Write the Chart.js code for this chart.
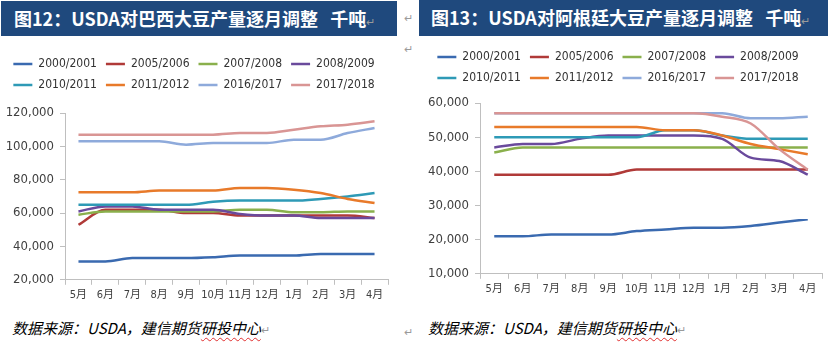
<!DOCTYPE html>
<html>
<head>
<meta charset="utf-8">
<script src="https://cdn.jsdelivr.net/npm/chart.js@4.4.1/dist/chart.umd.min.js"></script>
<style>
  body { margin: 0; width: 828px; height: 343px; background: #fff; position: relative; overflow: hidden; font-family: 'Noto Sans CJK SC', sans-serif; }
  .bar { position: absolute; height: 35px; background: #1F497D; color: #fff; font-weight: bold; font-size: 18px; line-height: 35px; white-space: pre; }
  .box { position: absolute; }
  .src { position: absolute; font-style: italic; font-size: 15px; color: #000; white-space: pre; line-height: 20px; }
  .mark { color: #9a9a9a; font-size: 11px; font-weight: normal; font-style: normal; }
  .free { position: absolute; }
  .wavy { text-decoration: underline wavy #e03030; text-decoration-thickness: 1px; text-underline-offset: 3px; }
</style>
</head>
<body>
<div class="bar" style="left:1px; top:1px; width:396px; padding-left:13px; box-sizing:border-box;">图12：USDA对巴西大豆产量逐月调整   千吨<span class="mark">↵</span></div>
<div class="bar" style="left:419px; top:0px; width:409px; height:36px; padding-left:12px; box-sizing:border-box;">图13：USDA对阿根廷大豆产量逐月调整   千吨<span class="mark">↵</span></div>
<span class="mark free" style="left:404px; top:9px;">↵</span>
<span class="mark free" style="left:404px; top:40px;">↵</span>

<div class="box" style="left:0px; top:40px; width:400px; height:266px;"><canvas id="brazil"></canvas></div>
<div class="box" style="left:414px; top:38px; width:414px; height:262px;"><canvas id="argentina"></canvas></div>

<div class="src" style="left:12px; top:318px;">数据来源：USDA，建信期货<span class="wavy">研投中心</span><span class="mark">↵</span></div>
<div class="src" style="left:428px; top:318px;">数据来源：USDA，建信期货<span class="wavy">研投中心</span><span class="mark">↵</span></div>
<span class="mark free" style="left:404px; top:323px;">↵</span>

<script>
const months = ['5月', '6月', '7月', '8月', '9月', '10月', '11月', '12月', '1月', '2月', '3月', '4月'];
const seasons = ['2000/2001', '2005/2006', '2007/2008', '2008/2009', '2010/2011', '2011/2012', '2016/2017', '2017/2018'];
const colors = ['#3A6AB0', '#B03A38', '#8AB04C', '#6A4A9C', '#2E9AB6', '#E87A2A', '#8EAADB', '#D99594'];

// Brazil soybean production estimates by report month (thousand tonnes)
const br2000 = [31000, 31000, 33000, 33000, 33000, 33500, 34500, 34500, 34500, 35500, 35500, 35500];
const br2005 = [53000, 62000, 62000, 62000, 60000, 60000, 58500, 58500, 58500, 58500, 58500, 57000];
const br2007 = [59000, 61000, 61000, 61000, 61000, 61000, 62000, 62000, 60500, 60500, 61000, 61000];
const br2008 = [61000, 64000, 64000, 62000, 62000, 62000, 59500, 58500, 58500, 57000, 57000, 57000];
const br2010 = [65000, 65000, 65000, 65000, 65000, 66800, 67500, 67500, 67500, 68500, 70000, 72000];
const br2011 = [72500, 72500, 72500, 73500, 73500, 73500, 75000, 75000, 74000, 72000, 68500, 66000];
const br2016 = [103000, 103000, 103000, 103000, 101000, 102000, 102000, 102000, 104000, 104000, 108000, 111000];
const br2017 = [107000, 107000, 107000, 107000, 107000, 107000, 108000, 108000, 110000, 112000, 113000, 115000];

// Argentina
const ar2000 = [21000, 21000, 21500, 21500, 21500, 22500, 23000, 23500, 23500, 24000, 25000, 26000];
const ar2005 = [39000, 39000, 39000, 39000, 39000, 40500, 40500, 40500, 40500, 40500, 40500, 40500];
const ar2007 = [45500, 47000, 47000, 47000, 47000, 47000, 47000, 47000, 47000, 47000, 47000, 47000];
const ar2008 = [47000, 48000, 48000, 49500, 50500, 50500, 50500, 50500, 49500, 44000, 43000, 39000];
const ar2010 = [50000, 50000, 50000, 50000, 50000, 50000, 52000, 52000, 50500, 49500, 49500, 49500];
const ar2011 = [53000, 53000, 53000, 53000, 53000, 53000, 52000, 52000, 50500, 48000, 46500, 45000];
const ar2016 = [57000, 57000, 57000, 57000, 57000, 57000, 57000, 57000, 57000, 55500, 55500, 56000];
const ar2017 = [57000, 57000, 57000, 57000, 57000, 57000, 57000, 57000, 56000, 54000, 46500, 40500];

const narrow = "'Liberation Sans Narrow', 'DejaVu Sans Condensed', 'Noto Sans CJK SC', sans-serif";
const axisGray = '#BFBFBF';

// extra space under the legend so the plot starts lower
const legendGap = {
  id: 'legendGap',
  beforeInit(chart) {
    const fit = chart.legend.fit;
    chart.legend.fit = function () {
      fit.call(this);
      this.height += chart.options.plugins.legendGap.gap;
    };
  }
};

function lineChart(id, series, yMin, yMax, yStep, axisWidth, pad, gap) {
  return new Chart(document.getElementById(id), {
    type: 'line',
    plugins: [legendGap],
    data: {
      labels: months,
      datasets: series.map((values, i) => ({
        label: seasons[i],
        data: values,
        borderColor: colors[i],
        backgroundColor: colors[i],
        borderWidth: 2.5,
        pointRadius: 0,
        cubicInterpolationMode: 'monotone',
        order: series.length - i   // later seasons on top
      }))
    },
    options: {
      responsive: true,
      maintainAspectRatio: false,
      animation: false,
      layout: { padding: pad },
      plugins: {
        legendGap: { gap },
        tooltip: { enabled: false },
        legend: {
          position: 'top',
          labels: {
            usePointStyle: true,
            pointStyle: 'line',
            pointStyleWidth: 19,
            padding: 9,
            color: '#333333',
            font: { family: narrow, size: 12 },
            sort: (a, b) => a.datasetIndex - b.datasetIndex
          }
        }
      },
      scales: {
        x: {
          offset: true,
          grid: { offset: true, drawOnChartArea: false, tickLength: 5, color: axisGray },
          border: { color: axisGray },
          ticks: { color: '#404040', padding: 4, maxRotation: 0, autoSkip: false, font: { family: narrow, size: 11 } }
        },
        y: {
          min: yMin,
          max: yMax,
          afterFit: s => { s.width = axisWidth; },
          grid: { drawOnChartArea: false, tickLength: 5, color: axisGray },
          border: { color: axisGray },
          ticks: {
            stepSize: yStep,
            padding: 6,
            color: '#404040',
            font: { family: narrow, size: 13 },
            callback: v => v.toLocaleString('en-US')
          }
        }
      }
    }
  });
}

lineChart('brazil', [br2000, br2005, br2007, br2008, br2010, br2011, br2016, br2017],
  20000, 120000, 20000, 65, { left: 0, right: 12, top: 9, bottom: 0 }, 12);
lineChart('argentina', [ar2000, ar2005, ar2007, ar2008, ar2010, ar2011, ar2016, ar2017],
  10000, 60000, 10000, 66, { left: 0, right: 6, top: 4, bottom: 0 }, 9);
</script>
</body>
</html>
